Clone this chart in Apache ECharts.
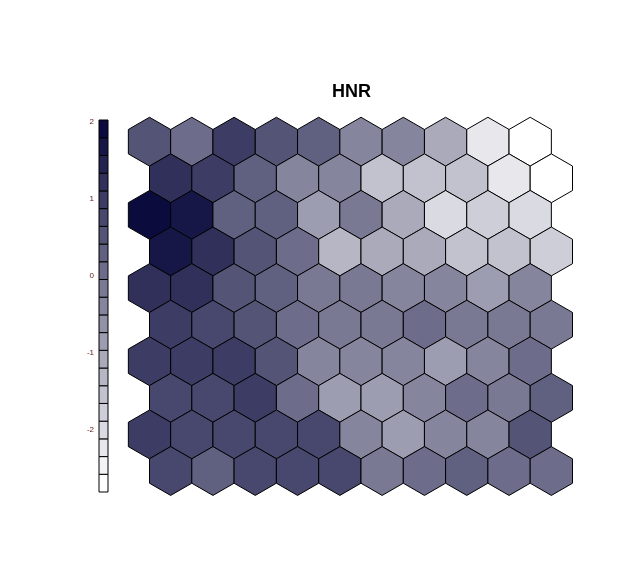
<!DOCTYPE html>
<html>
<head>
<meta charset="utf-8">
<script src="https://cdn.jsdelivr.net/npm/echarts@6/dist/echarts.min.js"></script>
<style>html,body{margin:0;padding:0;background:#fff}#c{width:626px;height:575px}</style>
</head>
<body>
<div id="c"></div>
<script>
// Title
var chartTitle = "HNR";
// Heat values per unit, rows listed from top row to bottom row, columns left to right
var rowsTopToBottom = [
  [ 0.53,  0.07,  0.99,  0.53,  0.30, -0.39, -0.39, -1.08, -2.23, -2.69],
  [ 1.22,  0.99,  0.30, -0.39, -0.39, -1.54, -1.54, -1.54, -2.23, -2.69],
  [ 1.91,  1.68,  0.30,  0.30, -0.85, -0.16, -1.08, -2.00, -1.77, -2.00],
  [ 1.68,  1.22,  0.53,  0.07, -1.31, -1.08, -1.08, -1.54, -1.54, -1.77],
  [ 1.22,  1.22,  0.53,  0.30, -0.16, -0.16, -0.39, -0.39, -0.85, -0.39],
  [ 0.99,  0.76,  0.53,  0.07, -0.16, -0.16,  0.07, -0.16, -0.16, -0.16],
  [ 0.99,  0.99,  0.99,  0.53, -0.39, -0.39, -0.39, -0.85, -0.39,  0.07],
  [ 0.76,  0.76,  0.99,  0.07, -0.85, -0.85, -0.39,  0.07, -0.16,  0.30],
  [ 0.99,  0.76,  0.76,  0.76,  0.76, -0.39, -0.85, -0.39, -0.39,  0.53],
  [ 0.76,  0.30,  0.76,  0.76,  0.76, -0.16,  0.07,  0.30,  0.07,  0.07]
];
// Color key: segment boundaries (bottom to top) and colours
var keyBreaks = [-2.805,-2.575,-2.345,-2.115,-1.885,-1.655,-1.425,-1.195,-0.965,-0.735,-0.505,-0.275,-0.045,0.185,0.415,0.645,0.875,1.105,1.335,1.565,1.795,2.026];
var keyColors = ["#ffffff","#f3f3f5","#e7e7ec","#dadae2","#ceced8","#c2c2cf","#b6b6c5","#aaaabb","#9d9db1","#9191a8","#85859e","#797994","#6d6d8b","#606081","#545477","#48486e","#3c3c64","#30305a","#232350","#171747","#0b0b3d"];
var keyTicks = [-2, -1, 0, 1, 2];

var S3 = Math.sqrt(3);
var nRows = rowsTopToBottom.length;
var hexData = [];
for (var i = 0; i < nRows; i++) {
  var r = nRows - i; // row number from bottom
  var shift = (r % 2 === 1) ? 0.5 : 0;
  for (var c = 0; c < rowsTopToBottom[i].length; c++) {
    hexData.push([c + 1 + shift, r * S3 / 2, rowsTopToBottom[i][c]]);
  }
}
var keyData = [];
for (var k = 0; k < keyColors.length; k++) {
  keyData.push([keyBreaks[k], keyBreaks[k + 1], k]);
}
var pieces = [];
for (var k = 0; k < keyColors.length; k++) {
  pieces.push({gte: keyBreaks[k], lt: keyBreaks[k + 1], color: keyColors[k]});
}

var chart = echarts.init(document.getElementById('c'), null, {renderer: 'canvas'});
chart.setOption({
  backgroundColor: '#fff',
  animation: false,
  title: {
    text: chartTitle, left: 327, top: 78, padding: 5,
    textStyle: {fontFamily: 'Liberation Sans, Arial', fontWeight: 'bold', fontSize: 18, color: '#000'}
  },
  visualMap: {
    type: 'piecewise', show: false, seriesIndex: 0, dimension: 2, pieces: pieces
  },
  grid: [
    {left: 128.35, top: 117.3, width: 444.15, height: 378.1},
    {left: 99, top: 120, width: 9, height: 372}
  ],
  xAxis: [
    {type: 'value', gridIndex: 0, min: 0.5, max: 11, show: false},
    {type: 'value', gridIndex: 1, min: 0, max: 1, show: false}
  ],
  yAxis: [
    {type: 'value', gridIndex: 0, min: S3 / 2 - 1 / S3, max: 10 * S3 / 2 + 1 / S3, show: false},
    {type: 'value', gridIndex: 1, min: keyBreaks[0], max: keyBreaks[keyBreaks.length - 1],
     axisLine: {show: false}, axisTick: {show: false}, splitLine: {show: false},
     axisLabel: {customValues: keyTicks, fontSize: 8, color: '#5a1a1a', margin: 5,
                 fontFamily: 'Liberation Sans, Arial'}}
  ],
  series: [
    {
      type: 'custom', xAxisIndex: 0, yAxisIndex: 0, data: hexData,
      renderItem: function (params, api) {
        var p = api.coord([api.value(0), api.value(1)]);
        var w = api.size([1, 0])[0];
        var R = w / S3;
        var pts = [];
        for (var a = 0; a < 6; a++) {
          var ang = Math.PI / 2 + a * Math.PI / 3;
          pts.push([p[0] + R * Math.cos(ang), p[1] - R * Math.sin(ang)]);
        }
        return {type: 'polygon', shape: {points: pts},
                style: {fill: api.visual('color'), stroke: '#000', lineWidth: 1}};
      }
    },
    {
      type: 'custom', xAxisIndex: 1, yAxisIndex: 1, data: keyData,
      renderItem: function (params, api) {
        var a = api.coord([0, api.value(1)]);
        var b = api.coord([1, api.value(0)]);
        return {type: 'rect', shape: {x: a[0], y: a[1], width: b[0] - a[0], height: b[1] - a[1]},
                style: {fill: keyColors[api.value(2)], stroke: '#000', lineWidth: 1}};
      }
    }
  ]
});
</script>
</body>
</html>
